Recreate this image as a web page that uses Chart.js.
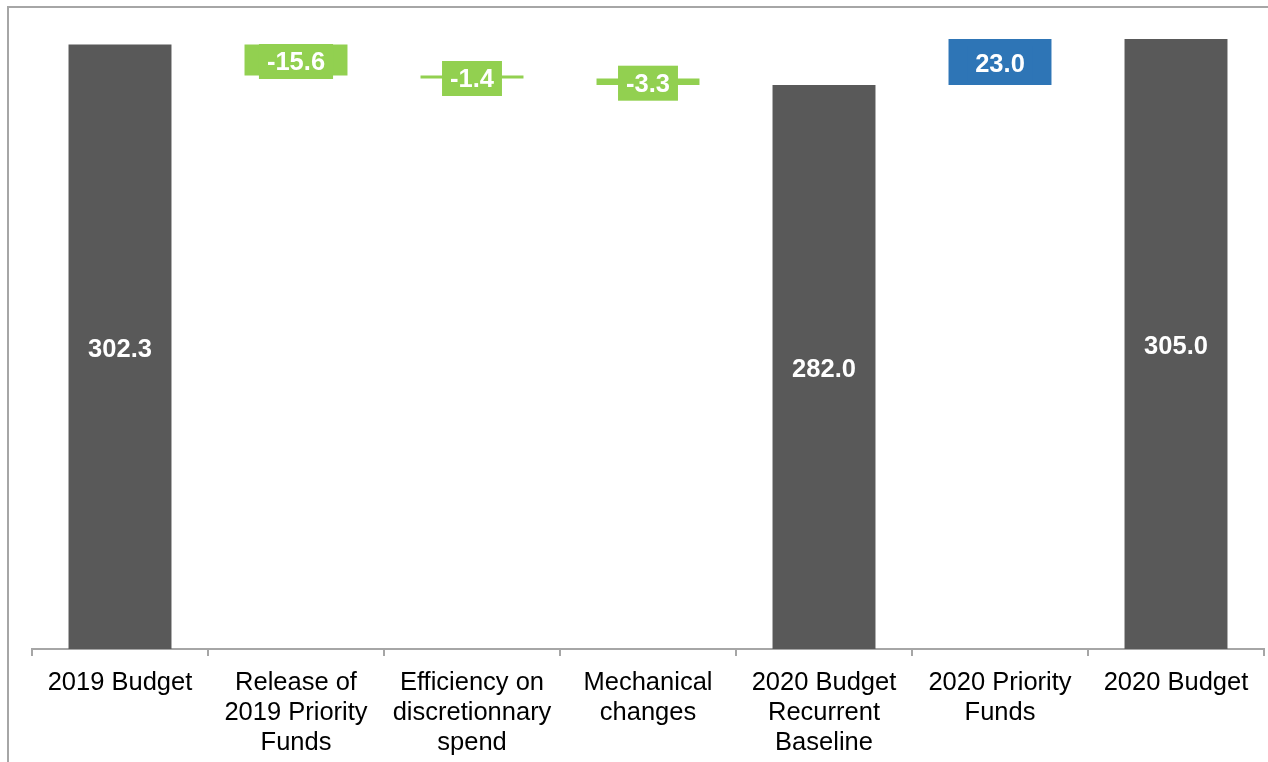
<!DOCTYPE html>
<html>
<head>
<meta charset="utf-8">
<script src="https://cdn.jsdelivr.net/npm/chart.js@4/dist/chart.umd.min.js"></script>
<style>
  html, body { margin: 0; padding: 0; background: #ffffff; }
  #wrap { width: 1268px; height: 762px; position: relative; }
</style>
</head>
<body>
<div id="wrap"><canvas id="c" width="1268" height="762"></canvas></div>
<script>
// Budget bridge, 2019 to 2020
const categories = [
  ["2019 Budget"],
  ["Release of", "2019 Priority", "Funds"],
  ["Efficiency on", "discretionnary", "spend"],
  ["Mechanical", "changes"],
  ["2020 Budget", "Recurrent", "Baseline"],
  ["2020 Priority", "Funds"],
  ["2020 Budget"]
];
const amounts = [302.3, -15.6, -1.4, -3.3, 282.0, 23.0, 305.0];
// "total" bars start from zero, "step" bars float on the running total
const kinds = ["total", "step", "step", "step", "total", "step", "total"];

const COLOR_TOTAL = "#595959";
const COLOR_DOWN = "#92D050";
const COLOR_UP = "#2E75B6";

let running = 0;
const ranges = amounts.map((v, i) => {
  if (kinds[i] === "total") { running = v; return [0, v]; }
  const start = running;
  running = +(running + v).toFixed(1);
  return [start, running];
});
const colors = amounts.map((v, i) =>
  kinds[i] === "total" ? COLOR_TOTAL : (v < 0 ? COLOR_DOWN : COLOR_UP));

// Value labels at the middle of each bar; step bars get a tag in their own colour
const valueLabels = {
  id: "valueLabels",
  afterDatasetsDraw(chart) {
    const ctx = chart.ctx;
    const meta = chart.getDatasetMeta(0);
    ctx.save();
    ctx.font = "bold 25.5px 'Liberation Sans', Arial, sans-serif";
    ctx.textAlign = "center";
    ctx.textBaseline = "middle";
    meta.data.forEach((bar, i) => {
      const text = amounts[i].toFixed(1);
      const cy = (bar.y + bar.base) / 2;
      if (kinds[i] === "step") {
        const w = ctx.measureText(text).width + 16;
        const h = 35;
        ctx.fillStyle = colors[i];
        ctx.fillRect(bar.x - w / 2, cy + 1.5 - h / 2, w, h);
      }
      ctx.fillStyle = "#ffffff";
      ctx.fillText(text, bar.x, cy + 3);
    });
    ctx.restore();
  }
};

// Thin frame along the top and left edges
const frame = {
  id: "frame",
  beforeDraw(chart) {
    const ctx = chart.ctx;
    ctx.save();
    ctx.strokeStyle = "#a6a6a6";
    ctx.lineWidth = 2;
    ctx.beginPath();
    ctx.moveTo(8, chart.height);
    ctx.lineTo(8, 7);
    ctx.lineTo(chart.width, 7);
    ctx.stroke();
    ctx.restore();
  }
};

new Chart(document.getElementById("c"), {
  type: "bar",
  data: {
    labels: categories,
    datasets: [{
      data: ranges,
      backgroundColor: colors,
      borderWidth: 0,
      barPercentage: 0.585,
      categoryPercentage: 1.0
    }]
  },
  options: {
    responsive: false,
    animation: false,
    layout: { padding: { left: 32, right: 4, top: 9, bottom: 0 } },
    plugins: { legend: { display: false }, tooltip: { enabled: false } },
    scales: {
      x: {
        grid: { display: true, drawOnChartArea: false, drawTicks: true, tickLength: 7, color: "#a6a6a6", lineWidth: 2 },
        border: { display: true, color: "#a6a6a6", width: 2 },
        ticks: {
          color: "#000000",
          padding: 12,
          maxRotation: 0,
          autoSkip: false,
          font: { family: "'Liberation Sans', Arial, sans-serif", size: 25.5, lineHeight: 1.18 }
        },
        afterFit(scale) { scale.height = 113; }
      },
      y: {
        display: false,
        min: 0,
        max: 320,
        grid: { display: false }
      }
    }
  },
  plugins: [frame, valueLabels]
});
</script>
</body>
</html>
